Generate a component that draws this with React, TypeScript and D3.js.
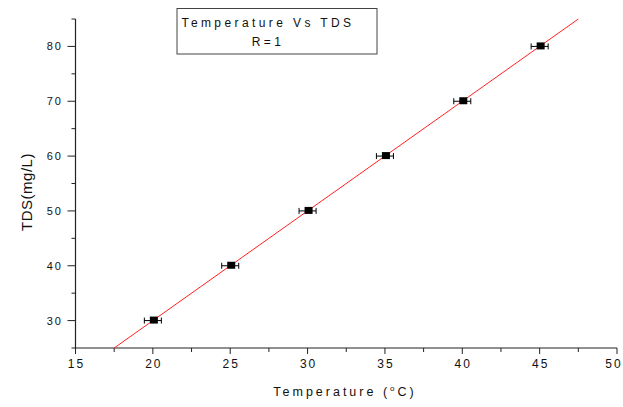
import React from "react";
import * as d3 from "d3";

// Measured temperature (°C) and total dissolved solids (mg/L)
const temperature = [20, 25, 30, 35, 40, 45];
const tds = [30, 40, 50, 60, 70, 80];
const tempError = [0.55, 0.55, 0.55, 0.55, 0.55, 0.55];

// Linear fit TDS = 2·T − 10 drawn across this temperature span
const fitSlope = 2;
const fitIntercept = -10;
const fitRange = [17.5, 47.5];

const xTicks = [15, 20, 25, 30, 35, 40, 45, 50];
const xMinorTicks = [17.5, 22.5, 27.5, 32.5, 37.5, 42.5, 47.5];
const yTicks = [30, 40, 50, 60, 70, 80];
const yMinorTicks = [25, 35, 45, 55, 65, 75, 85];

const titleLines = ["Temperature Vs TDS", "R=1"];

const W = 623;
const H = 407;
const FONT = "'Liberation Sans', Arial, sans-serif";

export default function App() {
  const x = d3.scaleLinear().domain([15, 50]).range([75.5, 617]);
  const y = d3.scaleLinear().domain([25, 85]).range([348, 19]);
  const x0 = x(15);
  const y0 = y(25);

  const fitLine = d3
    .line<number>()
    .x((t) => x(t))
    .y((t) => y(fitSlope * t + fitIntercept));

  const m = 8; // marker size
  const cap = 3;

  return (
    <svg
      width={W}
      height={H}
      style={{ position: "absolute", left: 0, top: 0, background: "#fff" }}
      fontFamily={FONT}
    >
      {/* title box */}
      <rect x={177} y={8.5} width={200} height={45.5} fill="#fff" stroke="#444" strokeWidth={1} />
      <text x={268} y={27} textAnchor="middle" fontSize={12} letterSpacing={3.4} fill="#111">
        {titleLines[0]}
      </text>
      <text x={268} y={46} textAnchor="middle" fontSize={12} letterSpacing={3.4} fill="#111">
        {titleLines[1]}
      </text>

      {/* axes */}
      <line x1={x0} y1={y(85)} x2={x0} y2={y0 + 0.5} stroke="#222" strokeWidth={1.2} />
      <line x1={x0} y1={y0} x2={x(50)} y2={y0} stroke="#222" strokeWidth={1.2} />

      {xTicks.map((t) => (
        <g key={"xt" + t}>
          <line x1={x(t)} x2={x(t)} y1={y0} y2={y0 + 6} stroke="#222" strokeWidth={1} />
          <text
            x={Math.min(x(t) + 1, W - 9)}
            y={368}
            textAnchor="middle"
            fontSize={12}
            letterSpacing={2}
            fill="#111"
          >
            {t}
          </text>
        </g>
      ))}
      {xMinorTicks.map((t) => (
        <line key={"xm" + t} x1={x(t)} x2={x(t)} y1={y0} y2={y0 + 4} stroke="#222" strokeWidth={1} />
      ))}
      {yTicks.map((t) => (
        <g key={"yt" + t}>
          <line x1={x0 - 8} x2={x0} y1={y(t)} y2={y(t)} stroke="#222" strokeWidth={1} />
          <text x={63} y={y(t) + 4} textAnchor="end" fontSize={11} letterSpacing={2} fill="#111">
            {t}
          </text>
        </g>
      ))}
      {yMinorTicks.map((t) => (
        <line key={"ym" + t} x1={x0 - 4} x2={x0} y1={y(t)} y2={y(t)} stroke="#222" strokeWidth={1} />
      ))}

      {/* axis titles */}
      <text x={345} y={396} textAnchor="middle" fontSize={12.5} letterSpacing={3} fill="#111">
        Temperature (
        <tspan fontSize={8} dy={-5}>o</tspan>
        <tspan dy={5}>C)</tspan>
      </text>
      <text
        transform="translate(32,192) rotate(-90)"
        textAnchor="middle"
        fontSize={15}
        letterSpacing={0.5}
        fill="#111"
      >
        TDS(mg/L)
      </text>

      {/* fit line */}
      <path d={fitLine(fitRange) ?? ""} fill="none" stroke="#ff2020" strokeWidth={1} />

      {/* data points with horizontal error bars */}
      {temperature.map((t, i) => {
        const cx = x(t);
        const cy = y(tds[i]);
        const xl = x(t - tempError[i]);
        const xr = x(t + tempError[i]);
        return (
          <g key={"p" + i}>
            <line x1={xl} x2={xr} y1={cy} y2={cy} stroke="#000" strokeWidth={1} />
            <line x1={xl} x2={xl} y1={cy - cap} y2={cy + cap} stroke="#000" strokeWidth={1} />
            <line x1={xr} x2={xr} y1={cy - cap} y2={cy + cap} stroke="#000" strokeWidth={1} />
            <rect x={cx - m / 2 + 1} y={cy - m / 2} width={m} height={m - 1} fill="#000" />
          </g>
        );
      })}
    </svg>
  );
}
